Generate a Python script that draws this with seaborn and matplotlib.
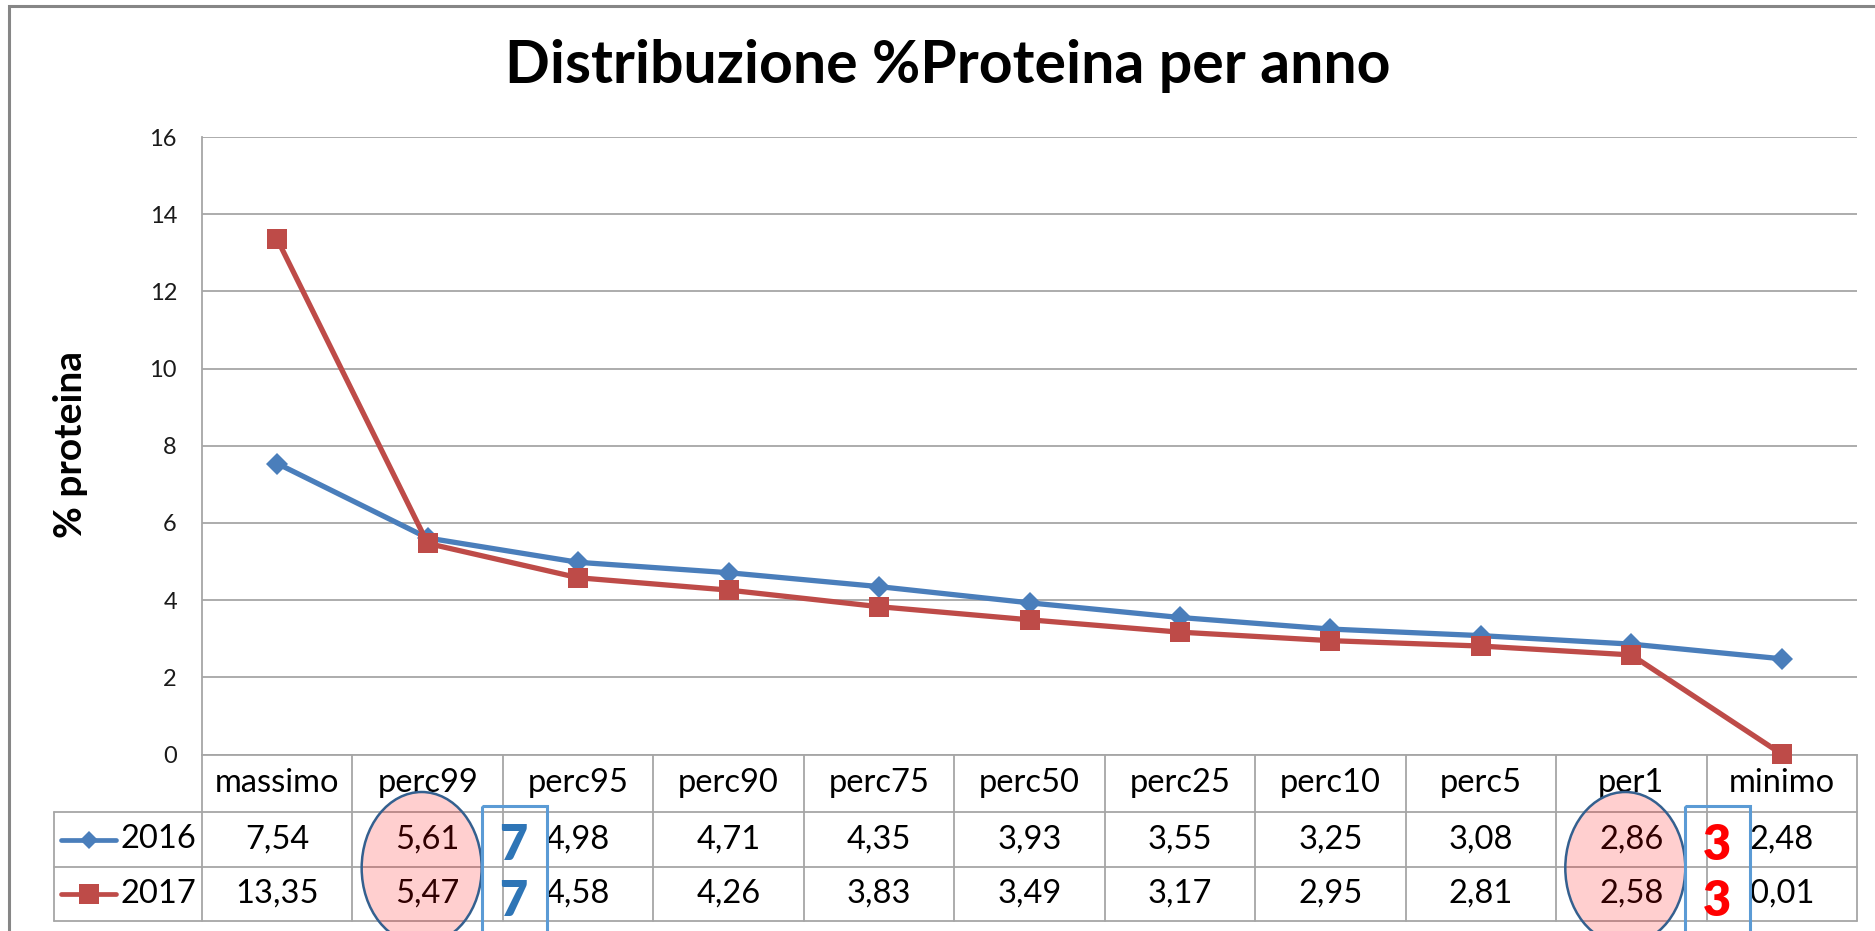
import numpy as np
import pandas as pd
import matplotlib
matplotlib.use("Agg")
import matplotlib.pyplot as plt
import seaborn as sns
from matplotlib import transforms
from matplotlib.patches import Ellipse, Rectangle
from matplotlib.lines import Line2D

# ---------------- data ----------------
categories = ["massimo", "perc99", "perc95", "perc90", "perc75", "perc50",
              "perc25", "perc10", "perc5", "per1", "minimo"]
years = ["2016", "2017"]
values_2016 = [7.54, 5.61, 4.98, 4.71, 4.35, 3.93, 3.55, 3.25, 3.08, 2.86, 2.48]
values_2017 = [13.35, 5.47, 4.58, 4.26, 3.83, 3.49, 3.17, 2.95, 2.81, 2.58, 0.01]
y_ticks = [0, 2, 4, 6, 8, 10, 12, 14, 16]
title = "Distribuzione %Proteina per anno"
ylabel = "% proteina"
highlight_cats = ["perc99", "per1"]
diff_labels = ["7", "3"]

# ---------------- style ----------------
sns.set_theme(style="white")
plt.rcParams["font.family"] = ["Lato", "DejaVu Sans"]

colors = {"2016": "#4A7EBB", "2017": "#BE4B48"}
markers = {"2016": "D", "2017": "s"}
msizes = {"2016": 11.5, "2017": 15}
grid_c = "#A6A6A6"

W, H = 1875, 931
fig = plt.figure(figsize=(W / 100, H / 100), dpi=100)
ax_l, ax_r, ax_t, ax_b = 202, 1857, 137, 754.5
ax = fig.add_axes([ax_l / W, 1 - ax_b / H, (ax_r - ax_l) / W, (ax_b - ax_t) / H])
axw, axh = ax_r - ax_l, ax_b - ax_t

df = pd.DataFrame({
    "pos": list(range(len(categories))) * 2,
    "categoria": categories * 2,
    "value": values_2016 + values_2017,
    "year": [years[0]] * len(values_2016) + [years[1]] * len(values_2017),
})

sns.lineplot(data=df, x="pos", y="value", hue="year", style="year",
             markers=markers, dashes=False, palette=colors, hue_order=years,
             style_order=years, linewidth=3.8, sort=False, legend=False, ax=ax)
for line, yr in zip(ax.lines, years):
    line.set_markersize(msizes[yr])
    line.set_markeredgewidth(0)
    line.set_clip_on(False)
    line.set_zorder(4)

ax.set_xlim(-0.5, len(categories) - 0.5)
ax.set_ylim(0, 16)
ax.set_yticks(y_ticks)
ax.set_xticks([])
ax.set_xlabel("")
ax.tick_params(axis="y", length=0, pad=18, labelsize=17, labelcolor="#1a1a1a")
ax.yaxis.grid(True, color=grid_c, lw=1.3)
ax.set_axisbelow(True)
for s in ["right", "top"]:
    ax.spines[s].set_visible(False)
for s in ["left", "bottom"]:
    ax.spines[s].set_color(grid_c)
    ax.spines[s].set_linewidth(1.3)

ax.set_ylabel(ylabel, fontsize=28, fontweight="bold", color="black")
ax.yaxis.set_label_coords((71 - ax_l) / axw, (ax_b - 445) / axh)
ax.yaxis.label.set_verticalalignment("center")

fig.suptitle(title, x=948 / W, y=1 - 66 / H, va="center", ha="center",
             fontsize=42.5, fontweight="bold", color="black")

# ---------------- data table ----------------
bt = transforms.blended_transform_factory(ax.transData, ax.transAxes)
def ya(py):
    return (ax_b - py) / axh
def xa(px):
    return (px - ax_l) / axw

y0, y1, y2, y3 = 0.0, ya(812), ya(867), ya(921)
tab_left = xa(54)
lk = dict(color=grid_c, lw=1.3, clip_on=False, zorder=2)
for yy in (y1, y2, y3):
    ax.add_line(Line2D([tab_left, 1.0], [yy, yy], transform=ax.transAxes, **lk))
ax.add_line(Line2D([tab_left, tab_left], [y1, y3], transform=ax.transAxes, **lk))
for i in range(len(categories) + 1):
    ax.add_line(Line2D([i - 0.5, i - 0.5], [y0, y3], transform=bt, **lk))

fs = 23.5
for i, c in enumerate(categories):
    ax.text(i, (y0 + y1) / 2, c, transform=bt, ha="center", va="center",
            fontsize=fs, color="black", zorder=3)

rows = [(years[0], values_2016, (y1 + y2) / 2), (years[1], values_2017, (y2 + y3) / 2)]
for yr, vals, yc in rows:
    for i, v in enumerate(vals):
        ax.text(i, yc, f"{v:.2f}".replace(".", ","), transform=bt, ha="center",
                va="center", fontsize=fs, color="black", zorder=3)
    ax.text(xa(121), yc, yr, transform=ax.transAxes, ha="left", va="center",
            fontsize=fs, color="black", zorder=3)
    ax.add_line(Line2D([xa(61), xa(88.5), xa(116)], [yc, yc, yc], transform=ax.transAxes,
                       color=colors[yr], lw=3.4, marker=markers[yr],
                       markersize=9.5 if yr == "2016" else 14, markeredgewidth=0,
                       markevery=[1], clip_on=False, zorder=3))

# ---------------- annotations ----------------
colw = axw / len(categories)
for cat, lab, col in zip(highlight_cats, diff_labels, ["#2E75B6", "#FF0000"]):
    i = categories.index(cat)
    ell = Ellipse((i - 0.04, ya(868)), 120 / colw, 152 / axh, transform=bt,
                  facecolor=(1, 0, 0, 0.19), edgecolor="#34608F", lw=1.8,
                  clip_on=False, zorder=5)
    ax.add_patch(ell)
    box = Rectangle((i + 0.36, ya(806)), 65 / colw, -0.35, transform=bt,
                    fill=False, edgecolor="#5B9BD5", lw=2.2, clip_on=False, zorder=5)
    ax.add_patch(box)
    for yy in (ya(845), ya(902)):
        ax.text(i + 0.57, yy, lab, transform=bt, ha="center", va="center",
                fontsize=35, fontweight="heavy", color=col, zorder=6)

# outer chart border (cropped on right/bottom)
fig.add_artist(Rectangle((9 / W, -0.05), 1.2, 1.05 - 6 / H, transform=fig.transFigure,
                         fill=False, edgecolor="#868686", lw=2.2))

fig.savefig("out.png", dpi=100)
